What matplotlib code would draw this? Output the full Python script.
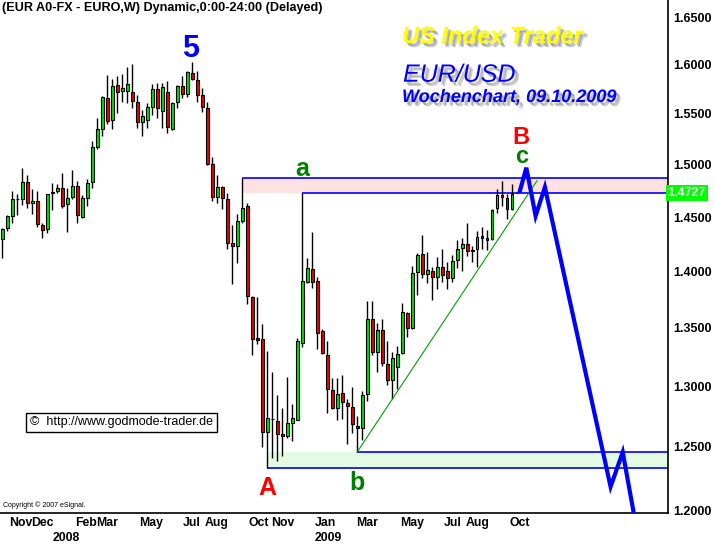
import numpy as np
import pandas as pd
import matplotlib
matplotlib.use("Agg")
import matplotlib.pyplot as plt
import matplotlib.dates as mdates
import matplotlib.patheffects as pe
from matplotlib.ticker import NullLocator
from matplotlib.transforms import blended_transform_factory

plt.rcParams['font.family'] = ['Liberation Sans', 'DejaVu Sans']

# weekly EUR/USD candles
weeks = pd.date_range('2007-10-22', periods=104, freq='7D')
opens = [1.4295, 1.4396, 1.4510, 1.4668, 1.4669, 1.4831, 1.4631, 1.4653, 1.4426, 1.4387,
         1.4726, 1.4748, 1.4773, 1.4624, 1.4688, 1.4795, 1.4503, 1.4678, 1.4831, 1.5176,
         1.5353, 1.5658, 1.5436, 1.5790, 1.5732, 1.5735, 1.5719, 1.5617, 1.5416, 1.5439,
         1.5572, 1.5749, 1.5532, 1.5725, 1.5347, 1.5623, 1.5783, 1.5705, 1.5912, 1.5844,
         1.5689, 1.5556, 1.5002, 1.4688, 1.4786, 1.4672, 1.4261, 1.4233, 1.4465, 1.4605,
         1.3774, 1.3409, 1.3400, 1.2624, 1.2729, 1.2712, 1.2605, 1.2591, 1.2698, 1.2721,
         1.3366, 1.3908, 1.4018, 1.3914, 1.3471, 1.3266, 1.2968, 1.2816, 1.2941, 1.2858,
         1.2825, 1.2671, 1.2652, 1.2932, 1.3576, 1.3294, 1.3479, 1.3187, 1.3052, 1.3158,
         1.3281, 1.3627, 1.3494, 1.3996, 1.4156, 1.3973, 1.4005, 1.3946, 1.4042, 1.4003,
         1.3937, 1.4104, 1.4212, 1.4249, 1.4196, 1.4203, 1.4325, 1.4304, 1.4297, 1.4583,
         1.4710, 1.4678, 1.4573, 1.4727]
highs = [1.4396, 1.4519, 1.4748, 1.4716, 1.4970, 1.4900, 1.4767, 1.4748, 1.4442, 1.4716,
         1.4827, 1.4812, 1.4916, 1.4779, 1.4948, 1.4843, 1.4710, 1.4862, 1.5232, 1.5462,
         1.5681, 1.5894, 1.5854, 1.5884, 1.5904, 1.5979, 1.6006, 1.5691, 1.5539, 1.5607,
         1.5803, 1.5810, 1.5816, 1.5833, 1.5623, 1.5793, 1.5884, 1.5935, 1.6030, 1.5935,
         1.5765, 1.5623, 1.5077, 1.4900, 1.4798, 1.4726, 1.4426, 1.4529, 1.4867, 1.4631,
         1.3783, 1.3774, 1.3532, 1.3300, 1.3118, 1.2927, 1.2816, 1.3080, 1.2852, 1.3409,
         1.4727, 1.4120, 1.4365, 1.3952, 1.3488, 1.3385, 1.3067, 1.3072, 1.3095, 1.2891,
         1.2995, 1.2754, 1.2962, 1.3739, 1.3739, 1.3538, 1.3574, 1.3388, 1.3294, 1.3343,
         1.3716, 1.3641, 1.4049, 1.4166, 1.4334, 1.4175, 1.4042, 1.4134, 1.4205, 1.4083,
         1.4150, 1.4288, 1.4304, 1.4448, 1.4233, 1.4371, 1.4411, 1.4380, 1.4573, 1.4764,
         1.4843, 1.4716, 1.4812, 1.4727]
lows = [1.4125, 1.4374, 1.4442, 1.4519, 1.4614, 1.4583, 1.4526, 1.4411, 1.4309, 1.4355,
        1.4567, 1.4726, 1.4589, 1.4365, 1.4669, 1.4442, 1.4488, 1.4608, 1.4779, 1.5150,
        1.5284, 1.5396, 1.5347, 1.5505, 1.5623, 1.5607, 1.5556, 1.5363, 1.5284, 1.5363,
        1.5488, 1.5462, 1.5363, 1.5308, 1.5340, 1.5556, 1.5658, 1.5668, 1.5844, 1.5623,
        1.5515, 1.5000, 1.4655, 1.4631, 1.4573, 1.4203, 1.3885, 1.4074, 1.4442, 1.3707,
        1.3260, 1.3357, 1.2501, 1.2330, 1.2414, 1.2390, 1.2430, 1.2570, 1.2550, 1.2715,
        1.3337, 1.3899, 1.3849, 1.3314, 1.3272, 1.2775, 1.2808, 1.2715, 1.2726, 1.2521,
        1.2611, 1.2457, 1.2556, 1.2877, 1.3260, 1.3115, 1.3172, 1.3009, 1.2891, 1.2974,
        1.3275, 1.3422, 1.3488, 1.3792, 1.3943, 1.3893, 1.3745, 1.3843, 1.3902, 1.3840,
        1.3902, 1.4028, 1.4005, 1.4144, 1.4088, 1.4042, 1.4203, 1.4196, 1.4288, 1.4535,
        1.4608, 1.4479, 1.4567, 1.4727]
closes = [1.4387, 1.4510, 1.4669, 1.4672, 1.4831, 1.4631, 1.4653, 1.4433, 1.4378, 1.4716,
          1.4735, 1.4773, 1.4608, 1.4678, 1.4792, 1.4516, 1.4678, 1.4821, 1.5176, 1.5347,
          1.5671, 1.5432, 1.5780, 1.5725, 1.5759, 1.5800, 1.5630, 1.5422, 1.5475, 1.5566,
          1.5749, 1.5556, 1.5769, 1.5373, 1.5607, 1.5783, 1.5705, 1.5922, 1.5851, 1.5689,
          1.5566, 1.5002, 1.4688, 1.4786, 1.4678, 1.4263, 1.4233, 1.4460, 1.4583, 1.3783,
          1.3400, 1.3397, 1.2624, 1.2735, 1.2723, 1.2603, 1.2591, 1.2693, 1.2737, 1.3385,
          1.3914, 1.4028, 1.3908, 1.3456, 1.3281, 1.2974, 1.2816, 1.2932, 1.2866, 1.2838,
          1.2685, 1.2652, 1.2927, 1.3576, 1.3289, 1.3479, 1.3195, 1.3052, 1.3238, 1.3275,
          1.3636, 1.3494, 1.3982, 1.4147, 1.3973, 1.4012, 1.3946, 1.4042, 1.3967, 1.3937,
          1.4095, 1.4203, 1.4249, 1.4187, 1.4190, 1.4313, 1.4304, 1.4291, 1.4567, 1.4710,
          1.4688, 1.4573, 1.4716, 1.4727]

# drawn projection and trend line
proj_dates = ['2009-10-16', '2009-10-25', '2009-11-07', '2009-11-20', '2010-02-20', '2010-03-09', '2010-03-24']
proj_prices = [1.4748, 1.4970, 1.4510, 1.4783, 1.2182, 1.2457, 1.1990]
trend_dates = ['2009-03-02', '2009-11-09']
trend_prices = [1.2457, 1.4845]

month_ticks = ['2007-11-01', '2007-12-01', '2008-02-01', '2008-03-01', '2008-05-01', '2008-07-01',
               '2008-08-01', '2008-10-01', '2008-11-01', '2009-01-01', '2009-03-01', '2009-05-01',
               '2009-07-01', '2009-08-01', '2009-10-01']
month_labels = ['Nov', 'Dec', 'Feb', 'Mar', 'May', 'Jul', 'Aug', 'Oct', 'Nov', 'Jan', 'Mar', 'May',
                'Jul', 'Aug', 'Oct']
year_ticks = ['2008-01-01', '2009-01-01']
year_labels = ['2008', '2009']
price_ticks = [1.20, 1.25, 1.30, 1.35, 1.40, 1.45, 1.50, 1.55, 1.60, 1.65]


def dn(d):
    return mdates.date2num(pd.to_datetime(d))


x = mdates.date2num(weeks)
o = np.array(opens); h = np.array(highs); l = np.array(lows); c = np.array(closes)

fig = plt.figure(figsize=(7.15, 5.45), dpi=100)
ax = fig.add_axes([0, 32 / 545, 667.7 / 715, 1 - 32 / 545])
ax.set_yscale('log')
x_left = x[0] - 3.2
x_right = dn('2010-05-11')
ax.set_xlim(x_left, x_right)
ax.set_ylim(1.1977, 1.6683)

# zones
ax.fill_between([x[48], x_right], h[60], h[48], color='#ffe1e1', lw=0, zorder=0.5)
ax.fill_between([x[53], x_right], l[53], l[71], color='#e2fbe2', lw=0, zorder=0.5)
ax.hlines(h[48], x[48], x_right, color='#0000ff', lw=1.2, zorder=1)
ax.hlines(h[60], x[60], x_right, color='#0000ff', lw=1.2, zorder=1)
ax.hlines(l[53], x[53], x_right, color='#0000ff', lw=1.2, zorder=1)
ax.hlines(l[71], x[71], x_right, color='#0000ff', lw=1.2, zorder=1)

# candles
up = c >= o
ax.vlines(x, l, h, color='black', lw=1.0, zorder=2)
ax.bar(x, np.abs(c - o), width=4.0, bottom=np.minimum(o, c),
       color=np.where(up, '#00e000', '#ee0000'), edgecolor='black', linewidth=0.8, zorder=3)

ax.plot([dn(d) for d in trend_dates], trend_prices, color='#00a000', lw=0.8, zorder=4)
ax.plot([dn(d) for d in proj_dates], proj_prices, color='#0000ff', lw=3.0, zorder=5,
        solid_joinstyle='miter')

# wave labels
wave = dict(fontweight='bold', ha='center', va='baseline', zorder=6)
ax.text(x[38] - 2, 1.6076, '5', color='#0000ff', fontsize=22, **wave)
ax.text(x[53], 1.2119, 'A', color='#ff0000', fontsize=18, **wave)
ax.text(x[71], 1.2153, 'b', color='#008000', fontsize=18, **wave)
ax.text(x[60], 1.4890, 'a', color='#008000', fontsize=18, **wave)
ax.text(dn('2009-10-18'), 1.5205, 'B', color='#ff0000', fontsize=17, **wave)
ax.text(dn('2009-10-18'), 1.5015, 'c', color='#008000', fontsize=17, **wave)

# axes styling
for s in ['left', 'top']:
    ax.spines[s].set_visible(False)
ax.spines['right'].set_linewidth(1.2)
ax.spines['bottom'].set_linewidth(1.2)
ax.yaxis.tick_right()
ax.set_yticks(price_ticks, labels=['%.4f' % p for p in price_ticks], fontweight='bold', fontsize=9)
ax.yaxis.set_minor_locator(NullLocator())
ax.tick_params(axis='y', length=0, pad=4)

ax.xaxis.remove_overlapping_locs = False
ax.set_xticks([dn(d) for d in month_ticks], labels=month_labels, fontweight='bold', fontsize=8.8,
              ha='left')
ax.set_xticks([dn(d) for d in year_ticks], labels=year_labels, minor=True, fontweight='bold',
              fontsize=8.8, ha='left')
ax.tick_params(axis='x', which='both', length=0)
ax.tick_params(axis='x', which='major', pad=3)
ax.tick_params(axis='x', which='minor', pad=14)

ax.text(1.0, h[60], '%.4f' % h[60], transform=blended_transform_factory(ax.transAxes, ax.transData),
        ha='left', va='center', color='white', fontweight='bold', fontsize=9,
        bbox=dict(boxstyle='square,pad=0.15', fc='#00ff00', ec='none'), clip_on=False)

# headline texts
shadow = [pe.SimplePatchShadow(offset=(3, -3), shadow_rgbFace='#909090', alpha=0.45),
          pe.SimplePatchShadow(offset=(2, -2), shadow_rgbFace='#808080', alpha=0.45),
          pe.Normal()]
fig.text(402 / 715, 1 - 43 / 545, 'US Index Trader', color='#ffff00', fontsize=17,
         fontweight='bold', style='italic', va='baseline', path_effects=shadow)
fig.text(403 / 715, 1 - 81.7 / 545, 'EUR/USD', color='#0000ff', fontsize=18,
         style='italic', va='baseline', path_effects=shadow)
fig.text(402 / 715, 1 - 102 / 545, 'Wochenchart, 09.10.2009', color='#0000ff', fontsize=13,
         fontweight='bold', style='italic', va='baseline', path_effects=shadow)

fig.text(2 / 715, 1 - 8 / 545, '(EUR A0-FX - EURO,W) Dynamic,0:00-24:00 (Delayed)',
         fontsize=9.1, fontweight='bold', va='center')
fig.text(30 / 715, 1 - 422.5 / 545, '\u00a9  http://www.godmode-trader.de', fontsize=9, va='center',
         bbox=dict(boxstyle='square,pad=0.3', fc='white', ec='black', lw=1))
fig.text(3 / 715, 1 - 505 / 545, 'Copyright \u00a9 2007 eSignal.', fontsize=5, va='center')

fig.savefig('out.png', dpi=100)
